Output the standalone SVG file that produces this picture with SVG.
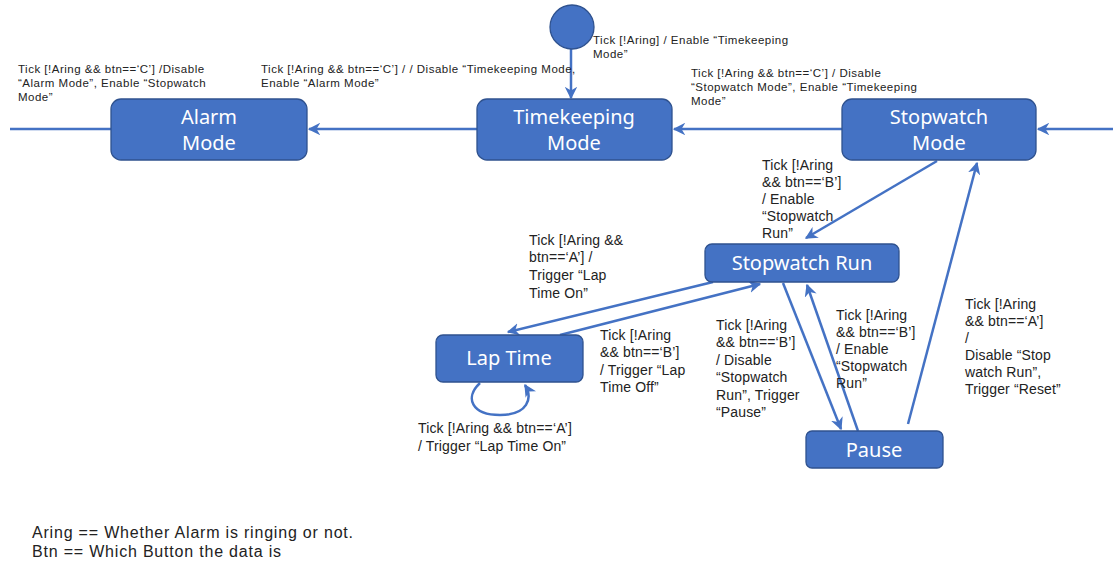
<svg xmlns="http://www.w3.org/2000/svg" width="1113" height="566" viewBox="0 0 1113 566">
<style>
.node{fill:#4472C4;stroke:#2F528F;stroke-width:1.3}
.nt{fill:#ffffff;font-family:"Noto Sans","Liberation Sans",sans-serif;font-size:20px;text-anchor:middle}
.edge{fill:none;stroke:#4472C4;stroke-width:2.5}
.s{fill:#222;font-family:"Liberation Sans","Noto Sans",sans-serif;font-size:11.5px;letter-spacing:0.5px}
.m{fill:#222;font-family:"Liberation Sans","Noto Sans",sans-serif;font-size:14px;letter-spacing:0.15px}
.l{fill:#222;font-family:"Liberation Sans","Noto Sans",sans-serif;font-size:16px;letter-spacing:0.8px}
</style>
<defs>
<marker id="ah" viewBox="0 0 10 10" refX="9" refY="5" markerWidth="5" markerHeight="5" orient="auto" markerUnits="strokeWidth">
<path d="M0,0 L10,5 L0,10 L3,5 Z" fill="#4472C4"/>
</marker>
</defs>
<rect width="1113" height="566" fill="#ffffff"/>
<g id="connectors">
<line class="edge" x1="571" y1="49" x2="571" y2="98" marker-end="url(#ah)"/>
<line class="edge" x1="10" y1="129" x2="111" y2="129"/>
<line class="edge" x1="477" y1="129" x2="309" y2="129" marker-end="url(#ah)"/>
<line class="edge" x1="842" y1="129" x2="674" y2="129" marker-end="url(#ah)"/>
<line class="edge" x1="1113" y1="129" x2="1038" y2="129" marker-end="url(#ah)"/>
<line class="edge" x1="937" y1="161" x2="806" y2="238" marker-end="url(#ah)"/>
<line class="edge" x1="908" y1="424" x2="977" y2="163" marker-end="url(#ah)"/>
<line class="edge" x1="713" y1="282" x2="508" y2="332" marker-end="url(#ah)"/>
<line class="edge" x1="560" y1="335" x2="760" y2="284" marker-end="url(#ah)"/>
<line class="edge" x1="783" y1="283" x2="841" y2="429" marker-end="url(#ah)"/>
<line class="edge" x1="858" y1="431" x2="807" y2="285" marker-end="url(#ah)"/>
<path class="edge" d="M480,383 C464,398 472,415 500,415 C528,415 533,398 525,385" marker-end="url(#ah)"/>
</g>
<g id="initial">
<circle cx="572" cy="27" r="22" class="node"/>
</g>
<g id="alarm-mode">
<rect x="111" y="99" width="196" height="61" rx="10" class="node"/>
<text class="nt" x="209" y="124">Alarm</text>
<text class="nt" x="209" y="150">Mode</text>
</g>
<g id="timekeeping-mode">
<rect x="477" y="99" width="195" height="61" rx="10" class="node"/>
<text class="nt" x="574" y="124">Timekeeping</text>
<text class="nt" x="574" y="150">Mode</text>
</g>
<g id="stopwatch-mode">
<rect x="842" y="99" width="194" height="61" rx="10" class="node"/>
<text class="nt" x="939" y="124">Stopwatch</text>
<text class="nt" x="939" y="150">Mode</text>
</g>
<g id="stopwatch-run">
<rect x="705" y="244" width="194" height="38" rx="7" class="node"/>
<text class="nt" x="802" y="270">Stopwatch Run</text>
</g>
<g id="lap-time">
<rect x="436" y="335" width="147" height="47" rx="7" class="node"/>
<text class="nt" x="509" y="365">Lap Time</text>
</g>
<g id="pause">
<rect x="806" y="431" width="137" height="37" rx="6" class="node"/>
<text class="nt" x="874" y="457">Pause</text>
</g>
<g id="labels">
<text class="s" x="18" y="73">Tick [!Aring &amp;&amp; btn==‘C’] /Disable</text>
<text class="s" x="18" y="87">“Alarm Mode”, Enable “Stopwatch</text>
<text class="s" x="18" y="101">Mode”</text>
<text class="s" x="261" y="73">Tick [!Aring &amp;&amp; btn==‘C’] / / Disable “Timekeeping Mode,</text>
<text class="s" x="261" y="87">Enable “Alarm  Mode”</text>
<text class="s" x="593" y="44">Tick [!Aring] / Enable “Timekeeping</text>
<text class="s" x="593" y="58">Mode”</text>
<text class="s" x="691" y="77">Tick [!Aring &amp;&amp; btn==‘C’] /   Disable</text>
<text class="s" x="691" y="91">“Stopwatch Mode”, Enable “Timekeeping</text>
<text class="s" x="691" y="105">Mode”</text>
<text class="m" x="762" y="170">Tick [!Aring</text>
<text class="m" x="762" y="187">&amp;&amp; btn==‘B’]</text>
<text class="m" x="762" y="204">/ Enable</text>
<text class="m" x="762" y="221">“Stopwatch</text>
<text class="m" x="762" y="238">Run”</text>
<text class="m" x="529" y="245">Tick [!Aring &amp;&amp;</text>
<text class="m" x="529" y="262">btn==‘A’] /</text>
<text class="m" x="529" y="280">Trigger “Lap</text>
<text class="m" x="529" y="298">Time On”</text>
<text class="m" x="600" y="340">Tick [!Aring</text>
<text class="m" x="600" y="357">&amp;&amp; btn==‘B’]</text>
<text class="m" x="600" y="375">/ Trigger “Lap</text>
<text class="m" x="600" y="392">Time Off”</text>
<text class="m" x="418" y="433">Tick [!Aring &amp;&amp; btn==‘A’]</text>
<text class="m" x="418" y="451">/ Trigger “Lap Time On”</text>
<text class="m" x="716" y="330">Tick [!Aring</text>
<text class="m" x="716" y="347">&amp;&amp; btn==‘B’]</text>
<text class="m" x="716" y="365">/ Disable</text>
<text class="m" x="716" y="382">“Stopwatch</text>
<text class="m" x="716" y="400">Run”,  Trigger</text>
<text class="m" x="716" y="417">“Pause”</text>
<text class="m" x="836" y="320">Tick [!Aring</text>
<text class="m" x="836" y="337">&amp;&amp; btn==‘B’]</text>
<text class="m" x="836" y="354">/ Enable</text>
<text class="m" x="836" y="371">“Stopwatch</text>
<text class="m" x="836" y="388">Run”</text>
<text class="m" x="965" y="309">Tick [!Aring</text>
<text class="m" x="965" y="326">&amp;&amp; btn==‘A’]</text>
<text class="m" x="965" y="343">/</text>
<text class="m" x="965" y="360">Disable “Stop</text>
<text class="m" x="965" y="377">watch Run”,</text>
<text class="m" x="965" y="394">Trigger “Reset”</text>
<text class="l" x="32" y="538">Aring == Whether Alarm is ringing or not.</text>
<text class="l" x="32" y="557">Btn == Which Button the data is</text>
</g>
</svg>
